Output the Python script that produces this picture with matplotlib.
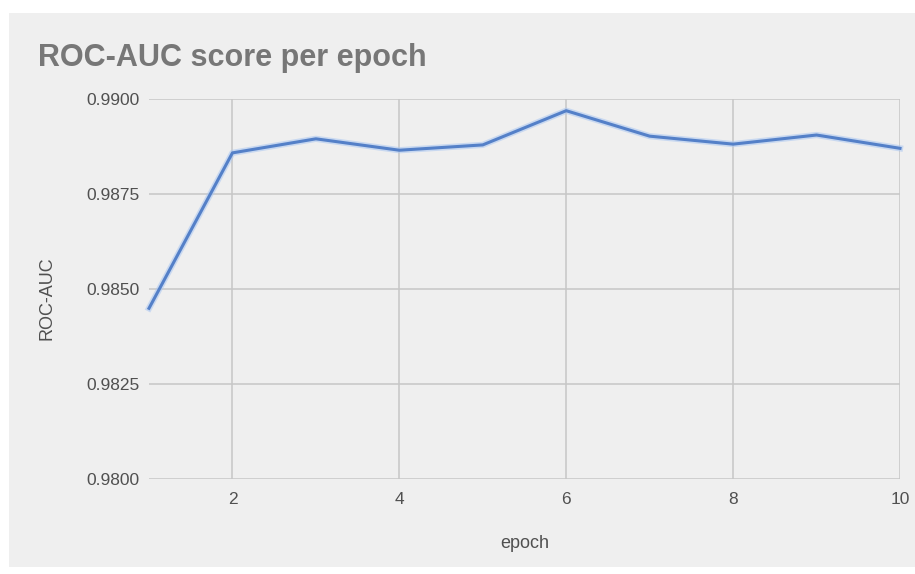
import matplotlib
matplotlib.use("Agg")
import matplotlib.pyplot as plt
from matplotlib.patches import Rectangle

plt.rcParams['font.family'] = ['Liberation Sans', 'DejaVu Sans']

epochs = [1, 2, 3, 4, 5, 6, 7, 8, 9, 10]
roc_auc = [0.9845, 0.98859, 0.98896, 0.98866, 0.98880, 0.98970, 0.98903, 0.98882, 0.98906, 0.98871]
x_ticks = [2, 4, 6, 8, 10]
y_ticks = [0.9800, 0.9825, 0.9850, 0.9875, 0.9900]
y_tick_labels = ["0.9800", "0.9825", "0.9850", "0.9875", "0.9900"]

W, H = 915, 574
fig = plt.figure(figsize=(W / 100, H / 100), dpi=100, facecolor="white")

# grey card behind the chart
fig.patches.append(Rectangle((9 / W, 1 - 567 / H), 1 - 9 / W, (567 - 13) / H,
                             transform=fig.transFigure, facecolor="#efefef",
                             edgecolor="none", zorder=-5))

ax = fig.add_axes([149 / W, 1 - 479.3 / H, (900 - 149) / W, (479.3 - 99.3) / H])
ax.set_facecolor("none")

# soft glow under the series line, then the line itself
ax.plot(epochs, roc_auc, color="#a9c6f2", linewidth=4.5, alpha=0.55,
        solid_joinstyle="round", zorder=2, clip_on=False)
ax.plot(epochs, roc_auc, color="#5480c8", linewidth=2.2, solid_joinstyle="round",
        zorder=3, clip_on=False)

ax.set_xlim(1, 10)
ax.set_ylim(0.98, 0.99)
ax.set_xticks(x_ticks)
ax.set_yticks(y_ticks)
ax.set_yticklabels(y_tick_labels)

ax.grid(True, color="#c6c6c6", linewidth=1.1)
ax.set_axisbelow(True)
for s in ax.spines.values():
    s.set_visible(False)
ax.tick_params(length=0, labelsize=12.5, labelcolor="#505050")
ax.tick_params(axis="y", pad=7)
ax.tick_params(axis="x", pad=9)

ax.set_xlabel("epoch", fontsize=13, color="#505050", va="center")
ax.set_ylabel("ROC-AUC", fontsize=13, color="#505050", va="center")
ax.xaxis.set_label_coords(0.5, -0.168)
ax.yaxis.set_label_coords(-0.136, 0.477)

fig.text(38 / W, 1 - 58 / H, "ROC-AUC score per epoch", fontsize=22,
         fontweight="bold", color="#777777", ha="left", va="center")

fig.savefig("out.png", dpi=100, facecolor="white")
